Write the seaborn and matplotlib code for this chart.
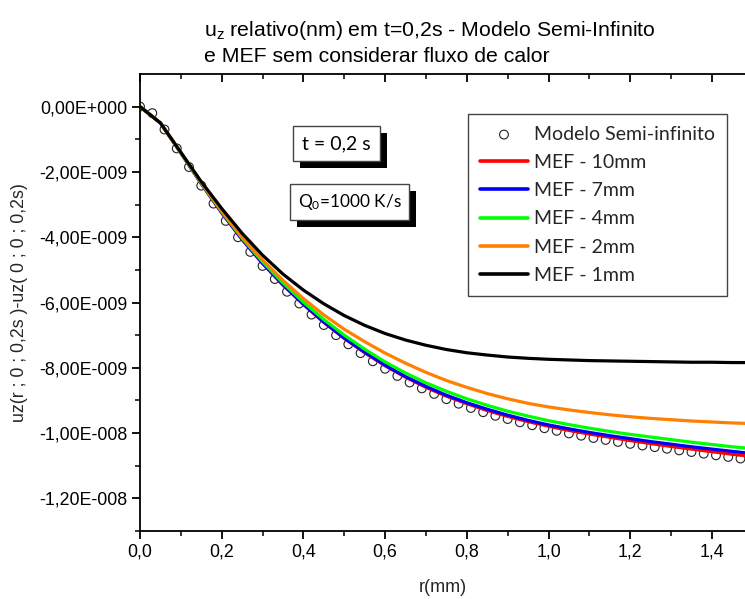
import numpy as np
import pandas as pd
import matplotlib
matplotlib.use("Agg")
import matplotlib.pyplot as plt
import matplotlib.patheffects as pe
from matplotlib.ticker import FixedLocator
import seaborn as sns

# ---------------- data (values in units of 1e-9) ----------------
r_semi = [0.00, 0.03, 0.06, 0.09, 0.12, 0.15, 0.18, 0.21, 0.24, 0.27,
          0.30, 0.33, 0.36, 0.39, 0.42, 0.45, 0.48, 0.51, 0.54, 0.57,
          0.60, 0.63, 0.66, 0.69, 0.72, 0.75, 0.78, 0.81, 0.84, 0.87,
          0.90, 0.93, 0.96, 0.99, 1.02, 1.05, 1.08, 1.11, 1.14, 1.17,
          1.20, 1.23, 1.26, 1.29, 1.32, 1.35, 1.38, 1.41, 1.44, 1.47]
uz_semi = [0.00, -0.20, -0.70, -1.28, -1.85, -2.42, -2.97, -3.50, -4.00, -4.45,
           -4.88, -5.28, -5.67, -6.03, -6.37, -6.69, -7.00, -7.28, -7.55, -7.80,
           -8.03, -8.25, -8.45, -8.63, -8.80, -8.96, -9.10, -9.23, -9.36, -9.47,
           -9.57, -9.67, -9.76, -9.85, -9.93, -10.01, -10.08, -10.15, -10.21, -10.27,
           -10.33, -10.38, -10.43, -10.48, -10.53, -10.58, -10.63, -10.68, -10.73, -10.78]

r_mef = [0.00, 0.05, 0.10, 0.15, 0.20, 0.25, 0.30, 0.35, 0.40, 0.45,
         0.50, 0.55, 0.60, 0.65, 0.70, 0.75, 0.80, 0.85, 0.90, 0.95,
         1.00, 1.05, 1.10, 1.15, 1.20, 1.25, 1.30, 1.35, 1.40, 1.45, 1.50]
uz_10mm = [0.00, -0.50, -1.42, -2.36, -3.25, -4.07, -4.80, -5.46, -6.06, -6.61,
           -7.10, -7.54, -7.94, -8.29, -8.60, -8.87, -9.10, -9.31, -9.49, -9.65,
           -9.79, -9.92, -10.03, -10.13, -10.23, -10.32, -10.41, -10.49, -10.57, -10.65, -10.72]
uz_7mm = [0.00, -0.50, -1.42, -2.36, -3.25, -4.07, -4.80, -5.46, -6.05, -6.60,
          -7.09, -7.52, -7.92, -8.27, -8.57, -8.84, -9.07, -9.27, -9.45, -9.61,
          -9.75, -9.87, -9.98, -10.08, -10.17, -10.26, -10.34, -10.42, -10.49, -10.56, -10.63]
uz_4mm = [0.00, -0.50, -1.42, -2.34, -3.22, -4.03, -4.75, -5.40, -5.99, -6.52,
          -7.00, -7.43, -7.82, -8.16, -8.46, -8.72, -8.95, -9.15, -9.33, -9.48,
          -9.62, -9.74, -9.85, -9.95, -10.04, -10.12, -10.20, -10.28, -10.35, -10.42, -10.48]
uz_2mm = [0.00, -0.50, -1.40, -2.33, -3.20, -4.00, -4.70, -5.32, -5.88, -6.38,
          -6.82, -7.20, -7.55, -7.86, -8.14, -8.39, -8.60, -8.79, -8.95, -9.09,
          -9.20, -9.29, -9.37, -9.44, -9.50, -9.55, -9.59, -9.63, -9.66, -9.69, -9.71]
uz_1mm = [0.00, -0.50, -1.40, -2.30, -3.12, -3.88, -4.55, -5.13, -5.62, -6.04,
          -6.40, -6.70, -6.95, -7.15, -7.31, -7.44, -7.54, -7.61, -7.67, -7.71,
          -7.74, -7.76, -7.78, -7.79, -7.80, -7.81, -7.82, -7.83, -7.83, -7.84, -7.84]

series_labels = ["MEF - 10mm", "MEF - 7mm", "MEF - 4mm", "MEF - 2mm", "MEF - 1mm"]
series_colors = ["#FF0000", "#0000FF", "#00FF00", "#FF8000", "#000000"]
semi_label = "Modelo Semi-infinito"

x_ticks = [0.0, 0.2, 0.4, 0.6, 0.8, 1.0, 1.2, 1.4]
x_ticklabels = ["0,0", "0,2", "0,4", "0,6", "0,8", "1,0", "1,2", "1,4"]
y_ticks = [0.0, -2e-9, -4e-9, -6e-9, -8e-9, -1e-8, -1.2e-8]
y_ticklabels = ["0,00E+000", "-2,00E-009", "-4,00E-009", "-6,00E-009",
                "-8,00E-009", "-1,00E-008", "-1,20E-008"]

title_line1 = r"u$\mathregular{_z}$ relativo(nm) em t=0,2s - Modelo Semi-Infinito"
title_line2 = "e MEF sem considerar fluxo de calor"
xlabel = "r(mm)"
ylabel = "uz(r ; 0 ; 0,2s )-uz( 0 ; 0 ; 0,2s)"
box1_text = "t = 0,2 s"
box2_text = r"Q$\mathregular{_0}$=1000 K/s"

# ---------------- build frames ----------------
df_semi = pd.DataFrame({"r": r_semi, "uz": np.array(uz_semi) * 1e-9})
mef_vals = [uz_10mm, uz_7mm, uz_4mm, uz_2mm, uz_1mm]
df_mef = pd.concat([
    pd.DataFrame({"r": r_mef, "uz": np.array(v) * 1e-9, "serie": lab})
    for v, lab in zip(mef_vals, series_labels)
], ignore_index=True)

# ---------------- style ----------------
sns.set_style("ticks")
plt.rcParams["font.family"] = ["Liberation Sans", "DejaVu Sans"]
plt.rcParams["axes.linewidth"] = 1.3

W, H = 745, 599
fig = plt.figure(figsize=(W / 100, H / 100), dpi=100)
ax_left, ax_right, ax_top, ax_bottom = 140, 745, 74, 531
ax = fig.add_axes([ax_left / W, 1 - ax_bottom / H,
                   (ax_right - ax_left) / W, (ax_bottom - ax_top) / H])

sns.scatterplot(data=df_semi, x="r", y="uz", ax=ax, marker="o", s=40,
                facecolors="none", edgecolor="#222222", linewidth=0.8,
                label=semi_label, zorder=2)
sns.lineplot(data=df_mef, x="r", y="uz", hue="serie", hue_order=series_labels,
             palette=series_colors, ax=ax, linewidth=2.3, zorder=3,
             estimator=None, sort=False)

ax.set_xlim(0, (ax_right - ax_left) / 408.5)
ax.set_ylim(-1.3e-8, 1e-9)

ax.xaxis.set_major_locator(FixedLocator(x_ticks))
ax.set_xticklabels(x_ticklabels)
ax.xaxis.set_minor_locator(FixedLocator([0.1, 0.3, 0.5, 0.7, 0.9, 1.1, 1.3]))
ax.yaxis.set_major_locator(FixedLocator(y_ticks))
ax.set_yticklabels(y_ticklabels)
ax.yaxis.set_minor_locator(FixedLocator([-1e-9, -3e-9, -5e-9, -7e-9, -9e-9, -1.1e-8, -1.3e-8]))

ax.tick_params(axis="both", which="major", labelsize=12.8, length=6, width=1.3,
               direction="out", color="black", labelcolor="black", pad=3)
ax.tick_params(axis="both", which="minor", length=3.5, width=1.3, direction="out")
ax.tick_params(axis="x", which="both", top=True, labeltop=False)

ax.spines["right"].set_visible(False)
ax.spines["top"].set_visible(True)
for s in ax.spines.values():
    s.set_color("black")

# top ticks inward
for t in ax.xaxis.get_major_ticks() + ax.xaxis.get_minor_ticks():
    t.tick2line.set_marker(matplotlib.lines.TICKDOWN)

ax.set_xlabel(xlabel, fontsize=13, labelpad=13)
ax.set_ylabel(ylabel, fontsize=12.8, labelpad=8)

# ---------------- legend ----------------
handles, labels = ax.get_legend_handles_labels()
leg = ax.legend(handles, labels, loc="upper left",
                bbox_to_anchor=(468 / W, 1 - 114 / H), bbox_transform=fig.transFigure,
                borderaxespad=0, frameon=True, fancybox=False, framealpha=1,
                edgecolor="#444444", prop={"family": "Lato", "size": 14},
                labelspacing=0.58, handlelength=2.5, handletextpad=0.3,
                borderpad=0.6)
leg.get_frame().set_linewidth(1.0)
for line in leg.get_lines():
    line.set_linewidth(2.6)

# ---------------- text boxes with shadow ----------------
shadow = [pe.SimplePatchShadow(offset=(5, -5), shadow_rgbFace="black", alpha=1.0),
          pe.Normal()]
for txt, cx, cy, fs in [(box1_text, 336.5, 143.5, 14), (box2_text, 349.5, 202, 12.4)]:
    t = fig.text(cx / W, 1 - cy / H, txt, ha="center", va="center",
                 family="Lato", fontsize=fs, color="black",
                 bbox=dict(boxstyle="square,pad=0.45", facecolor="white",
                           edgecolor="#444444", linewidth=1.0))
    t.get_bbox_patch().set_path_effects(shadow)

# ---------------- title ----------------
tfam = ["Liberation Sans Narrow", "Liberation Sans"]
fig.text(204 / W, 1 - 31 / H, title_line1, ha="left", va="center",
         family=tfam, fontsize=15.3, color="black")
fig.text(204 / W, 1 - 57 / H, title_line2, ha="left", va="center",
         family=tfam, fontsize=15.3, color="black")

fig.savefig("out.png", dpi=100)
